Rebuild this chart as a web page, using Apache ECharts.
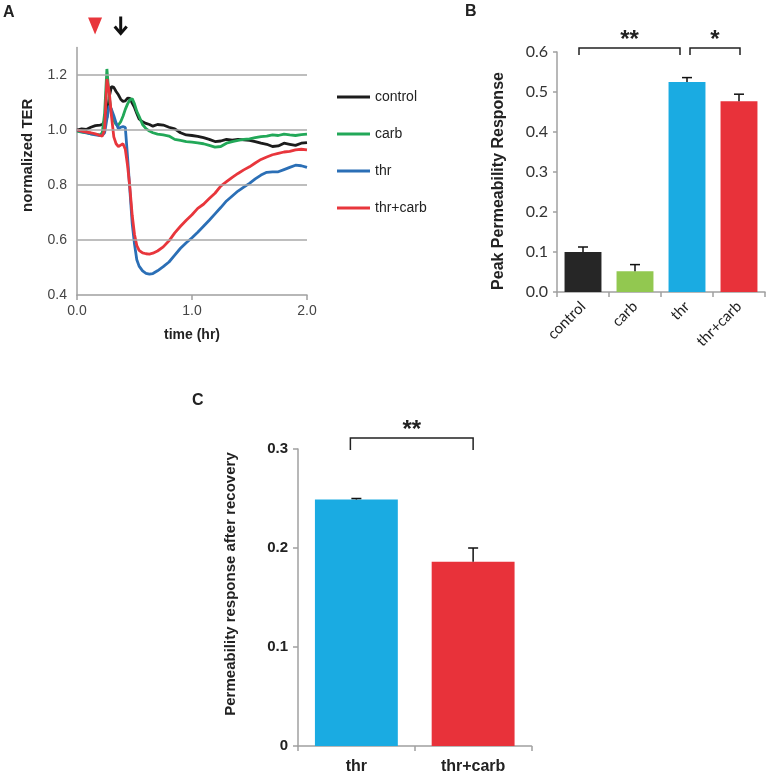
<!DOCTYPE html>
<html><head><meta charset="utf-8">
<script src="https://cdn.jsdelivr.net/npm/echarts@6/dist/echarts.min.js"></script>
<style>html,body{margin:0;padding:0;background:#fff}#c{width:767px;height:775px}</style>
</head><body><div id="c"></div>
<script>
// ---------- Panel A: normalized TER vs time ----------
const timeHr = [0.00,0.04,0.08,0.12,0.16,0.20,0.22,0.24,0.26,0.28,0.30,0.32,0.34,0.36,0.38,0.40,0.42,0.44,0.46,0.48,0.50,0.52,0.54,0.57,0.60,0.63,0.66,0.70,0.75,0.80,0.85,0.90,0.95,1.00,1.05,1.10,1.15,1.20,1.25,1.30,1.35,1.40,1.45,1.50,1.55,1.60,1.65,1.70,1.75,1.80,1.85,1.90,1.95,2.00];
const controlTER = [1.000,1.004,1.002,1.010,1.016,1.018,1.020,1.030,1.045,1.120,1.158,1.155,1.140,1.128,1.112,1.104,1.106,1.116,1.115,1.098,1.082,1.060,1.040,1.030,1.024,1.020,1.014,1.020,1.018,1.010,1.004,0.990,0.982,0.980,0.977,0.972,0.966,0.958,0.960,0.966,0.963,0.966,0.964,0.962,0.958,0.952,0.948,0.940,0.942,0.952,0.948,0.944,0.952,0.954];
const carbTER = [0.996,0.992,0.990,0.986,0.984,0.982,0.990,1.060,1.222,1.120,1.060,1.035,1.020,1.018,1.030,1.050,1.075,1.095,1.110,1.114,1.095,1.068,1.050,1.020,1.005,0.996,0.990,0.985,0.982,0.978,0.966,0.962,0.958,0.956,0.953,0.950,0.944,0.938,0.940,0.952,0.958,0.962,0.966,0.968,0.972,0.976,0.978,0.982,0.980,0.985,0.982,0.980,0.983,0.985];
const thrTER = [1.000,0.994,0.990,0.986,0.982,0.980,0.981,0.990,1.040,1.088,1.075,1.052,1.025,1.005,1.010,1.012,1.010,0.900,0.780,0.660,0.585,0.528,0.505,0.488,0.479,0.476,0.478,0.488,0.503,0.520,0.545,0.570,0.590,0.608,0.628,0.650,0.672,0.695,0.718,0.742,0.760,0.778,0.792,0.806,0.822,0.836,0.846,0.848,0.848,0.856,0.864,0.872,0.870,0.864];
const thrCarbTER = [1.000,0.996,0.992,0.990,0.986,0.980,0.978,1.000,1.185,1.140,1.050,0.975,0.950,0.940,0.945,0.950,0.930,0.870,0.790,0.690,0.620,0.580,0.562,0.553,0.550,0.549,0.552,0.560,0.575,0.597,0.626,0.650,0.672,0.692,0.715,0.730,0.751,0.770,0.796,0.812,0.828,0.842,0.855,0.866,0.880,0.893,0.902,0.910,0.915,0.920,0.922,0.928,0.930,0.928];
const terSeriesNames = ['control','carb','thr','thr+carb'];
const terGridValues = [0.6, 0.8, 1.0, 1.2];
const markerTimes = [0.157, 0.38];
const markerKinds = ['triangle', 'arrow'];
const markerLevel = 1.38;

// ---------- Panel B: peak permeability response ----------
const peakCats = ['control','carb','thr','thr+carb'];
const peakVals = [0.100, 0.052, 0.525, 0.477];
const peakErr  = [0.0125, 0.0165, 0.011, 0.0175];
const peakBrStart = [0, 2];
const peakBrEnd   = [2, 3];
const peakBrLabel = ['**', '*'];
const peakBrLevel = 0.61;

// ---------- Panel C: response after recovery ----------
const recCats = ['thr','thr+carb'];
const recVals = [0.249, 0.186];
const recErr  = [0.001, 0.014];
const recBrStart = [0];
const recBrEnd   = [1];
const recBrLabel = ['**'];
const recBrLevel = 0.311;

// ---------- styles ----------
const lineColors = ['#1c1c1c', '#22a858', '#2b6fb6', '#e8363c'];
const peakColors = ['#262626', '#92c850', '#1aabe2', '#e8323a'];
const recColors  = ['#1aabe2', '#e8323a'];
const AR = 'Liberation Sans, Arial, sans-serif';
const axisGray = '#a0a0a0';

const chart = echarts.init(document.getElementById('c'), null, {renderer: 'canvas'});

function zip(xs, ys){ return xs.map((x, i) => [x, ys[i]]); }

function errRender(params, api){
  const i = api.value(0), v = api.value(1), e = api.value(2);
  const p0 = api.coord([i, v]);
  const p1 = api.coord([i, v + e]);
  const cap = 5;
  return {type: 'group', children: [
    {type: 'line', shape: {x1: p0[0], y1: p0[1], x2: p1[0], y2: p1[1]}, style: {stroke: '#111', lineWidth: 1.5}},
    {type: 'line', shape: {x1: p1[0] - cap, y1: p1[1], x2: p1[0] + cap, y2: p1[1]}, style: {stroke: '#111', lineWidth: 1.5}}
  ]};
}

function makeBracketRender(labels, nudgeL, nudgeR, legPx, starGap){
  return function(params, api){
    const a = api.value(0), b = api.value(1), lv = api.value(2);
    const pa = api.coord([a, lv]);
    const pb = api.coord([b, lv]);
    const xl = pa[0] + nudgeL[params.dataIndex];
    const xr = pb[0] + nudgeR[params.dataIndex];
    const y = pa[1];
    return {type: 'group', children: [
      {type: 'polyline', shape: {points: [[xl, y + legPx], [xl, y], [xr, y], [xr, y + legPx]]},
       style: {stroke: '#222', lineWidth: 1.5, fill: null}},
      {type: 'text', x: (xl + xr) / 2, y: y - starGap,
       style: {text: labels[params.dataIndex], fontSize: 24, fontWeight: 'bold', fontFamily: AR,
               fill: '#222', align: 'center', verticalAlign: 'middle'}}
    ]};
  };
}

function markerRender(params, api){
  const p = api.coord([api.value(0), api.value(1)]);
  const kind = markerKinds[params.dataIndex];
  if (kind === 'triangle') {
    return {type: 'polygon', shape: {points: [[p[0] - 7, p[1] - 8], [p[0] + 7, p[1] - 8], [p[0], p[1] + 9]]},
            style: {fill: '#e8363c'}};
  }
  return {type: 'group', children: [
    {type: 'line', shape: {x1: p[0], y1: p[1] - 9, x2: p[0], y2: p[1] + 7}, style: {stroke: '#111', lineWidth: 3}},
    {type: 'polyline', shape: {points: [[p[0] - 6, p[1] + 1], [p[0], p[1] + 8], [p[0] + 6, p[1] + 1]]},
     style: {stroke: '#111', lineWidth: 3, fill: null}}
  ]};
}

const terData = [controlTER, carbTER, thrTER, thrCarbTER];

const series = [];
// gridlines of panel A (drawn through the axis scale)
series.push({
  type: 'line', xAxisIndex: 0, yAxisIndex: 0, data: [], z: 1, silent: true,
  markLine: {silent: true, symbol: 'none', label: {show: false},
    lineStyle: {color: '#a8a8a8', width: 1.5, type: 'solid'},
    data: terGridValues.map(v => ({yAxis: v}))}
});
terData.forEach((vals, k) => {
  series.push({
    name: terSeriesNames[k], type: 'line', xAxisIndex: 0, yAxisIndex: 0, z: 3,
    showSymbol: false, symbol: 'none', data: zip(timeHr, vals),
    lineStyle: {color: lineColors[k], width: 2.8}, itemStyle: {color: lineColors[k]}
  });
});
series.push({
  type: 'custom', xAxisIndex: 0, yAxisIndex: 0, clip: false, z: 4,
  renderItem: markerRender, data: markerTimes.map(t => [t, markerLevel])
});
// panel B
series.push({
  type: 'bar', xAxisIndex: 1, yAxisIndex: 1, barWidth: '71%', z: 2,
  data: peakVals.map((v, i) => ({value: v, itemStyle: {color: peakColors[i]}}))
});
series.push({
  type: 'custom', xAxisIndex: 1, yAxisIndex: 1, z: 3, clip: false,
  renderItem: errRender, encode: {x: 0, y: 1},
  data: peakVals.map((v, i) => [i, v, peakErr[i]])
});
series.push({
  type: 'custom', xAxisIndex: 1, yAxisIndex: 1, z: 3, clip: false,
  renderItem: makeBracketRender(peakBrLabel, [-4, 3], [-7, 1], 7, 8),
  encode: {x: [0, 1], y: 2},
  data: peakBrStart.map((s, i) => [s, peakBrEnd[i], peakBrLevel])
});
// panel C
series.push({
  type: 'bar', xAxisIndex: 2, yAxisIndex: 2, barWidth: '71%', z: 2,
  data: recVals.map((v, i) => ({value: v, itemStyle: {color: recColors[i]}}))
});
series.push({
  type: 'custom', xAxisIndex: 2, yAxisIndex: 2, z: 3, clip: false,
  renderItem: errRender, encode: {x: 0, y: 1},
  data: recVals.map((v, i) => [i, v, recErr[i]])
});
series.push({
  type: 'custom', xAxisIndex: 2, yAxisIndex: 2, z: 3, clip: false,
  renderItem: makeBracketRender(recBrLabel, [-6], [0], 12, 8),
  encode: {x: [0, 1], y: 2},
  data: recBrStart.map((s, i) => [s, recBrEnd[i], recBrLevel])
});

const option = {
  backgroundColor: '#fff',
  animation: false,
  textStyle: {fontFamily: AR},
  grid: [
    {left: 77, top: 47.5, width: 230, height: 247.5},
    {left: 557, top: 52, width: 208, height: 240},
    {left: 298, top: 449, width: 233.5, height: 299}
  ],
  legend: {
    data: terSeriesNames, orient: 'vertical', left: 337, top: 89, padding: 0,
    icon: 'rect', itemWidth: 33, itemHeight: 3, itemGap: 21,
    textStyle: {fontSize: 14, color: '#222', fontFamily: AR, lineHeight: 16}
  },
  xAxis: [
    {gridIndex: 0, type: 'value', min: 0, max: 2, interval: 1,
     name: 'time (hr)', nameLocation: 'middle', nameGap: 33,
     nameTextStyle: {fontSize: 14, fontWeight: 'bold', color: '#222', fontFamily: AR},
     axisLine: {show: true, lineStyle: {color: axisGray, width: 1.5}},
     axisTick: {show: true, length: 5, lineStyle: {color: axisGray, width: 1.5}},
     axisLabel: {fontSize: 14, color: '#444', margin: 9, formatter: v => v.toFixed(1)},
     splitLine: {show: false}},
    {gridIndex: 1, type: 'category', data: peakCats, boundaryGap: true,
     axisLine: {show: true, lineStyle: {color: axisGray, width: 1.5}},
     axisTick: {show: true, length: 5, alignWithLabel: false, lineStyle: {color: axisGray, width: 1.5}},
     axisLabel: {rotate: 45, fontSize: 15, color: '#222', fontFamily: 'Lato, sans-serif', margin: 12, interval: 0}},
    {gridIndex: 2, type: 'category', data: recCats, boundaryGap: true,
     axisLine: {show: true, lineStyle: {color: axisGray, width: 1.5}},
     axisTick: {show: true, length: 5, alignWithLabel: false, lineStyle: {color: axisGray, width: 1.5}},
     axisLabel: {fontSize: 16, fontWeight: 'bold', color: '#222', margin: 13, interval: 0}}
  ],
  yAxis: [
    {gridIndex: 0, type: 'value', min: 0.4, max: 1.3, interval: 0.2,
     name: 'normalized TER', nameLocation: 'middle', nameGap: 42,
     nameTextStyle: {fontSize: 15, fontWeight: 'bold', color: '#222', fontFamily: AR, padding: [0, 0, 0, 32]},
     axisLine: {show: true, lineStyle: {color: axisGray, width: 1.5}},
     axisTick: {show: false},
     axisLabel: {fontSize: 14, color: '#444', margin: 10, showMaxLabel: false, formatter: v => v.toFixed(1)},
     splitLine: {show: false}},
    {gridIndex: 1, type: 'value', min: 0, max: 0.6, interval: 0.1,
     name: 'Peak Permeability Response', nameLocation: 'middle', nameGap: 50,
     nameTextStyle: {fontSize: 16, fontWeight: 'bold', color: '#222', fontFamily: AR, padding: [0, 18, 0, 0]},
     axisLine: {show: true, lineStyle: {color: axisGray, width: 1.5}},
     axisTick: {show: true, length: 4, lineStyle: {color: axisGray, width: 1.5}},
     axisLabel: {fontSize: 16, color: '#333', fontFamily: 'Lato, sans-serif', margin: 9, formatter: v => v.toFixed(1)},
     splitLine: {show: false}},
    {gridIndex: 2, type: 'value', min: 0, max: 0.3, interval: 0.1,
     name: 'Permeability response after recovery', nameLocation: 'middle', nameGap: 60,
     nameTextStyle: {fontSize: 15, fontWeight: 'bold', color: '#222', fontFamily: AR, padding: [0, 0, 0, 27]},
     axisLine: {show: true, lineStyle: {color: axisGray, width: 1.5}},
     axisTick: {show: true, length: 5, lineStyle: {color: axisGray, width: 1.5}},
     axisLabel: {fontSize: 15, fontWeight: 'bold', color: '#222', margin: 10, formatter: v => v === 0 ? '0' : v.toFixed(1)},
     splitLine: {show: false}}
  ],
  graphic: [
    {type: 'text', left: 3, top: 5, style: {text: 'A', fontSize: 16, fontWeight: 'bold', fontFamily: AR, fill: '#222'}},
    {type: 'text', left: 465, top: 4, style: {text: 'B', fontSize: 16, fontWeight: 'bold', fontFamily: AR, fill: '#222'}},
    {type: 'text', left: 192, top: 393, style: {text: 'C', fontSize: 16, fontWeight: 'bold', fontFamily: AR, fill: '#222'}}
  ],
  series: series
};
chart.setOption(option);
</script>
</body></html>
